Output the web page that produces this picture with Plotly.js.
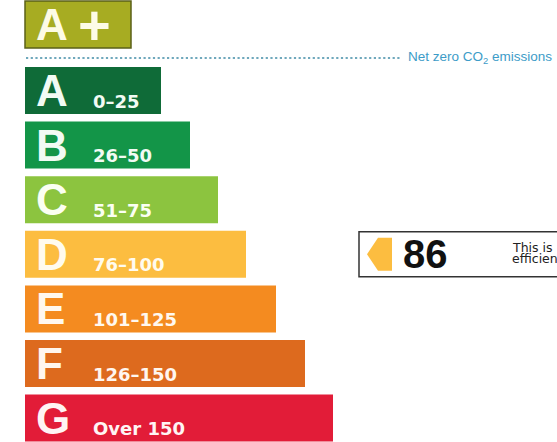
<!DOCTYPE html>
<html>
<head>
<meta charset="utf-8">
<script src="https://cdn.plot.ly/plotly-3.0.1.min.js"></script>
<style>html,body{margin:0;padding:0;background:#fff;overflow:hidden}#chart{width:557px;height:442px}</style>
</head>
<body>
<div id="chart"></div>
<script>
// ---- data ----
const bands = ["A+", "A", "B", "C", "D", "E", "F", "G"];
const bandRanges = ["", "0–25", "26–50", "51–75", "76–100", "101–125", "126–150", "Over 150"];
const bandUpperLimits = [0, 25, 50, 75, 100, 125, 150, Infinity];
const barLengths = [106, 136, 165, 193, 221, 251, 280, 308];
const rating = 86;
const netZeroLabel = "Net zero CO<sub>2</sub> emissions";
const ratingCaption = ["This is how energy", "efficient the building is."];

// ---- styles ----
const bandColors = ["#a7ac22", "#0f6b38", "#139548", "#8cc43f", "#fcbd40", "#f48b20", "#dd6a1e", "#e21c38"];
const textColors = ["#fdfbe6", "#f2fbf4", "#f2fbf4", "#fbfff2", "#fffbef", "#fff8ef", "#fff6ef", "#fff4f4"];

// layout positions (pixel-like axes)
const x0 = 25;
const barH = 47;
function yCenter(i) { return i === 0 ? 24.5 : 90.5 + (i - 1) * 54.6; }
const ys = bands.map((b, i) => yCenter(i));

const bandIdx = bandUpperLimits.findIndex(u => rating <= u);

const traces = [{
  type: "bar",
  orientation: "h",
  y: ys,
  x: barLengths,
  base: x0,
  width: bands.map(() => barH),
  marker: {
    color: bandColors,
    line: {color: bands.map((b, i) => i === 0 ? "#5b6019" : "rgba(0,0,0,0)"), width: bands.map((b, i) => i === 0 ? 1.5 : 0)}
  },
  hoverinfo: "skip"
}];

const letterFont = "Liberation Sans, Arial, sans-serif";
const annotations = [];
bands.forEach((b, i) => {
  const letter = b.charAt(0);
  const extra = b.slice(1);
  annotations.push({
    x: 34, y: ys[i], xref: "x", yref: "y", xanchor: "left", yanchor: "middle",
    text: "<b>" + letter + "</b>", showarrow: false,
    font: {family: letterFont, size: 44, color: textColors[i]}
  });
  if (extra) {
    annotations.push({
      x: 76, y: ys[i], xref: "x", yref: "y", xanchor: "left", yanchor: "middle",
      text: "<b>" + extra + "</b>", showarrow: false,
      font: {family: letterFont, size: 56, color: textColors[i]}
    });
  }
  if (bandRanges[i]) {
    annotations.push({
      x: 91, y: ys[i] + 10.5, xref: "x", yref: "y", xanchor: "left", yanchor: "middle",
      text: "<b>" + bandRanges[i] + "</b>", showarrow: false,
      font: {family: "DejaVu Sans, Verdana, sans-serif", size: 18, color: textColors[i]}
    });
  }
});

// net zero label
annotations.push({
  x: 406, y: 57, xref: "x", yref: "y", xanchor: "left", yanchor: "middle",
  text: netZeroLabel, showarrow: false,
  font: {family: "Liberation Sans, Arial, sans-serif", size: 13.5, color: "#3d9cc8"}
});

// rating indicator
const ry = ys[bandIdx];
annotations.push({
  x: 401, y: ry, xref: "x", yref: "y", xanchor: "left", yanchor: "middle",
  text: "<b>" + rating + "</b>", showarrow: false,
  font: {family: "Liberation Sans, Arial, sans-serif", size: 40, color: "#111"}
});
ratingCaption.forEach((t, k) => {
  annotations.push({
    x: 510, y: ry - 7 + k * 11.5, xref: "x", yref: "y", xanchor: "left", yanchor: "middle",
    text: t, showarrow: false,
    font: {family: "DejaVu Sans, Verdana, sans-serif", size: 12.5, color: "#222"}
  });
});

const shapes = [
  {type: "line", xref: "x", yref: "y", x0: x0 + 1, x1: 400, y0: 58, y1: 58,
   line: {color: "#6fa8bc", width: 2.2, dash: "2.2px,2.5px"}},
  {type: "rect", xref: "x", yref: "y", x0: 359, x1: 620, y0: ry - 22.5, y1: ry + 22.5,
   line: {color: "#333", width: 1.5}, fillcolor: "#fff", layer: "below"},
  {type: "path", xref: "x", yref: "y",
   path: `M 367 ${ry} L 378 ${ry - 16.5} L 392 ${ry - 16.5} L 392 ${ry + 16.5} L 378 ${ry + 16.5} Z`,
   fillcolor: bandColors[bandIdx], line: {width: 0}}
];

const layout = {
  width: 557, height: 442,
  margin: {l: 0, r: 0, t: 0, b: 0},
  paper_bgcolor: "#fff", plot_bgcolor: "#fff",
  showlegend: false,
  xaxis: {range: [0, 557], visible: false, fixedrange: true},
  yaxis: {range: [442, 0], visible: false, fixedrange: true},
  bargap: 0,
  annotations: annotations,
  shapes: shapes
};

Plotly.newPlot("chart", traces, layout, {staticPlot: true, displayModeBar: false});
</script>
</body>
</html>
